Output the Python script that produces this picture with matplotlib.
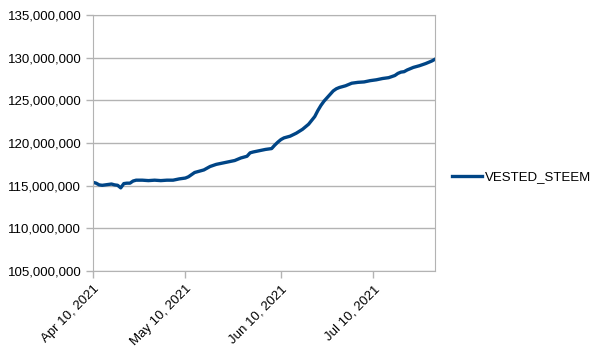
import pandas as pd
import matplotlib.pyplot as plt
from matplotlib.ticker import FuncFormatter
import matplotlib.dates as mdates

plt.rcParams['font.family'] = ['Liberation Sans', 'DejaVu Sans']

# days after Apr 10, 2021 and VESTED_STEEM (millions)
days = [0, 1, 2, 3, 4, 5, 6, 7, 8, 9, 10, 11, 12, 13, 14, 16, 18, 20, 22, 24, 26, 28,
        30, 31, 32, 33, 34, 36, 38, 40, 42, 44, 46, 48, 50, 51, 52, 54, 56, 58, 59, 60,
        61, 62, 64, 66, 68, 70, 72, 73, 74, 75, 76, 77, 78, 79, 80, 82, 84, 86, 88, 90,
        92, 94, 96, 98, 99, 100, 101, 102, 104, 106, 108, 110, 111]
vested = [115.40, 115.30, 115.10, 115.05, 115.10, 115.15, 115.20, 115.10, 115.05, 114.75,
          115.25, 115.30, 115.30, 115.55, 115.65, 115.65, 115.60, 115.65, 115.60, 115.65,
          115.65, 115.80, 115.90, 116.05, 116.30, 116.55, 116.65, 116.85, 117.25, 117.50,
          117.65, 117.80, 117.95, 118.25, 118.45, 118.85, 118.95, 119.10, 119.25, 119.35,
          119.75, 120.10, 120.40, 120.60, 120.80, 121.15, 121.60, 122.20, 123.10, 123.80,
          124.40, 124.90, 125.30, 125.70, 126.10, 126.35, 126.50, 126.70, 127.00, 127.10,
          127.15, 127.30, 127.40, 127.55, 127.65, 127.90, 128.15, 128.30, 128.35, 128.55,
          128.85, 129.05, 129.30, 129.60, 129.80]
xticks = ['2021-04-10', '2021-05-10', '2021-06-10', '2021-07-10']

df = pd.DataFrame({"day": days, "value": vested})
df["date"] = pd.Timestamp('2021-04-10') + pd.to_timedelta(df["day"], unit='D')
df["value"] = df["value"] * 1e6

fig = plt.figure(figsize=(6.04, 3.54), dpi=100)
ax = fig.add_axes([0.154, 0.234, 0.566, 0.724])
ax.plot(df["date"], df["value"], color='#004586', lw=2.4, label='VESTED_STEEM')

ax.set_xlim(df["date"].iloc[0], df["date"].iloc[-1])
ax.set_ylim(105e6, 135e6)
ax.set_yticks(range(105000000, 135000001, 5000000))
ax.yaxis.set_major_formatter(FuncFormatter(lambda v, p: f'{int(v):,}'))
ax.set_xticks(pd.to_datetime(xticks))
ax.xaxis.set_major_formatter(mdates.DateFormatter('%b %d, %Y'))
plt.setp(ax.get_xticklabels(), rotation=45, ha='right', rotation_mode='anchor')

ax.grid(axis='y', color='#b3b3b3', lw=1)
ax.set_axisbelow(True)
for s in ax.spines.values():
    s.set_color('#b3b3b3')
ax.tick_params(colors='#b3b3b3', labelcolor='black', labelsize=9.5, length=5, width=1)

fig.legend(loc='center left', bbox_to_anchor=(0.728, 0.5), frameon=False,
           fontsize=9.5, handlelength=2.3, handletextpad=0.2)

plt.savefig("out.png")
